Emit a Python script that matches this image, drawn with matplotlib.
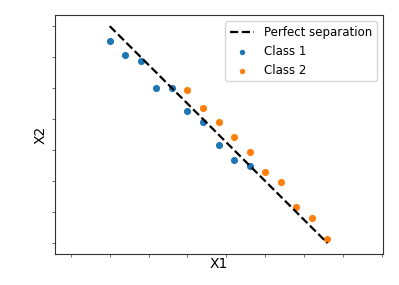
import matplotlib
matplotlib.use("Agg")
import matplotlib.pyplot as plt

# data
class1_x = [1.0, 1.4, 1.8, 2.2, 2.6, 3.0, 3.4, 3.8, 4.2, 4.6]
class1_y = [6.52, 6.06, 5.88, 5.01, 4.99, 4.26, 3.92, 3.16, 2.69, 2.49]
class2_x = [3.0, 3.4, 3.8, 4.2, 4.6, 5.0, 5.4, 5.8, 6.2, 6.6]
class2_y = [4.95, 4.35, 3.92, 3.41, 2.95, 2.31, 1.97, 1.15, 0.82, 0.13]
line_x = [1.0, 6.6]
line_y = [7.0, 0.0]
xticks = [0, 1, 2, 3, 4, 5, 6, 7, 8]
yticks = [0, 1, 2, 3, 4, 5, 6, 7]

fig = plt.figure(figsize=(3.99, 2.85), dpi=100)
ax = fig.add_axes([54.5 / 399, (285 - 254.3) / 285, 328.2 / 399, 239 / 285])

ax.plot(line_x, line_y, 'k--', lw=1.6, label='Perfect separation')
ax.scatter(class1_x, class1_y, s=17, color='#1f77b4', label='Class 1')
ax.scatter(class2_x, class2_y, s=17, color='#ff7f0e', label='Class 2')

ax.set_xlim(-0.42, 8.02)
ax.set_ylim(-0.36, 7.35)
ax.set_xticks(xticks)
ax.set_yticks(yticks)
ax.set_xticklabels([])
ax.set_yticklabels([])
ax.tick_params(length=2.5, width=0.6, color='#555555')
for sp in ax.spines.values():
    sp.set_color('#333333')
    sp.set_linewidth(0.8)

ax.set_xlabel('X1', fontsize=10, labelpad=-4)
ax.set_ylabel('X2', fontsize=10, labelpad=-1)
ax.legend(loc='upper right', fontsize=8.5, handlelength=2.0, borderpad=0.4,
          labelspacing=0.5, handletextpad=0.85, markerscale=0.7)

fig.savefig('out.png', dpi=100)
